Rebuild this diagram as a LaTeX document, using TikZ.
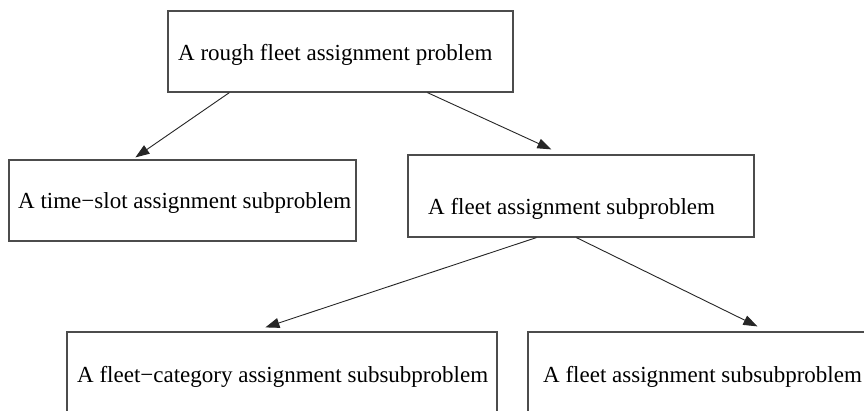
\documentclass[tikz,border=0pt]{standalone}
\usepackage{fontspec}
\setmainfont{Liberation Serif}
\usetikzlibrary{arrows.meta}

\tikzset{
  box/.style={draw=black!70, line width=1.2pt, rectangle, inner sep=0pt},
  lbl/.style={anchor=base west, inner sep=0pt, text=black,
    font=\fontsize{23}{27}\selectfont},
  arr/.style={draw=black!85, line width=0.9pt,
    -{Triangle[length=14pt,width=10pt]}}
}

\begin{document}
\begin{tikzpicture}[x=1pt, y=-1pt]
  \useasboundingbox (0,0) rectangle (864,411);
  \clip (0,0) rectangle (864,411);
  \fill[white] (0,0) rectangle (864,411);

  % boxes
  \node[box, minimum width=345pt, minimum height=81pt] (top) at (340.5,51.5) {};
  \node[box, minimum width=347pt, minimum height=81pt] (left) at (182.5,200.5) {};
  \node[box, minimum width=346pt, minimum height=82pt] (mid) at (581,196) {};
  \node[box, minimum width=430pt, minimum height=84pt] (bl) at (282,374) {};
  \node[box, minimum width=360pt, minimum height=84pt] (br) at (708,374) {};

  % labels
  \node[lbl] (topt) at (178,61) {A rough fleet assignment problem};
  \node[lbl] (leftt) at (18,209) {A time−slot assignment subproblem};
  \node[lbl] (midt) at (428,215) {A fleet assignment subproblem};
  \node[lbl] (blt) at (77,382) {A fleet−category assignment subsubproblem};
  \node[lbl] (brt) at (543,382) {A fleet assignment subsubproblem};

  % connectors
  \draw[arr] ([xshift=62pt]top.south west) -- ([xshift=127pt,yshift=2pt]left.north west);
  \draw[arr] ([xshift=260pt]top.south west) -- ([xshift=144pt,yshift=5pt]mid.north west);
  \draw[arr] ([xshift=129pt]mid.south west) -- ([xshift=199pt,yshift=4pt]bl.north west);
  \draw[arr] ([xshift=169pt]mid.south west) -- ([xshift=230pt,yshift=5pt]br.north west);
\end{tikzpicture}
\end{document}
